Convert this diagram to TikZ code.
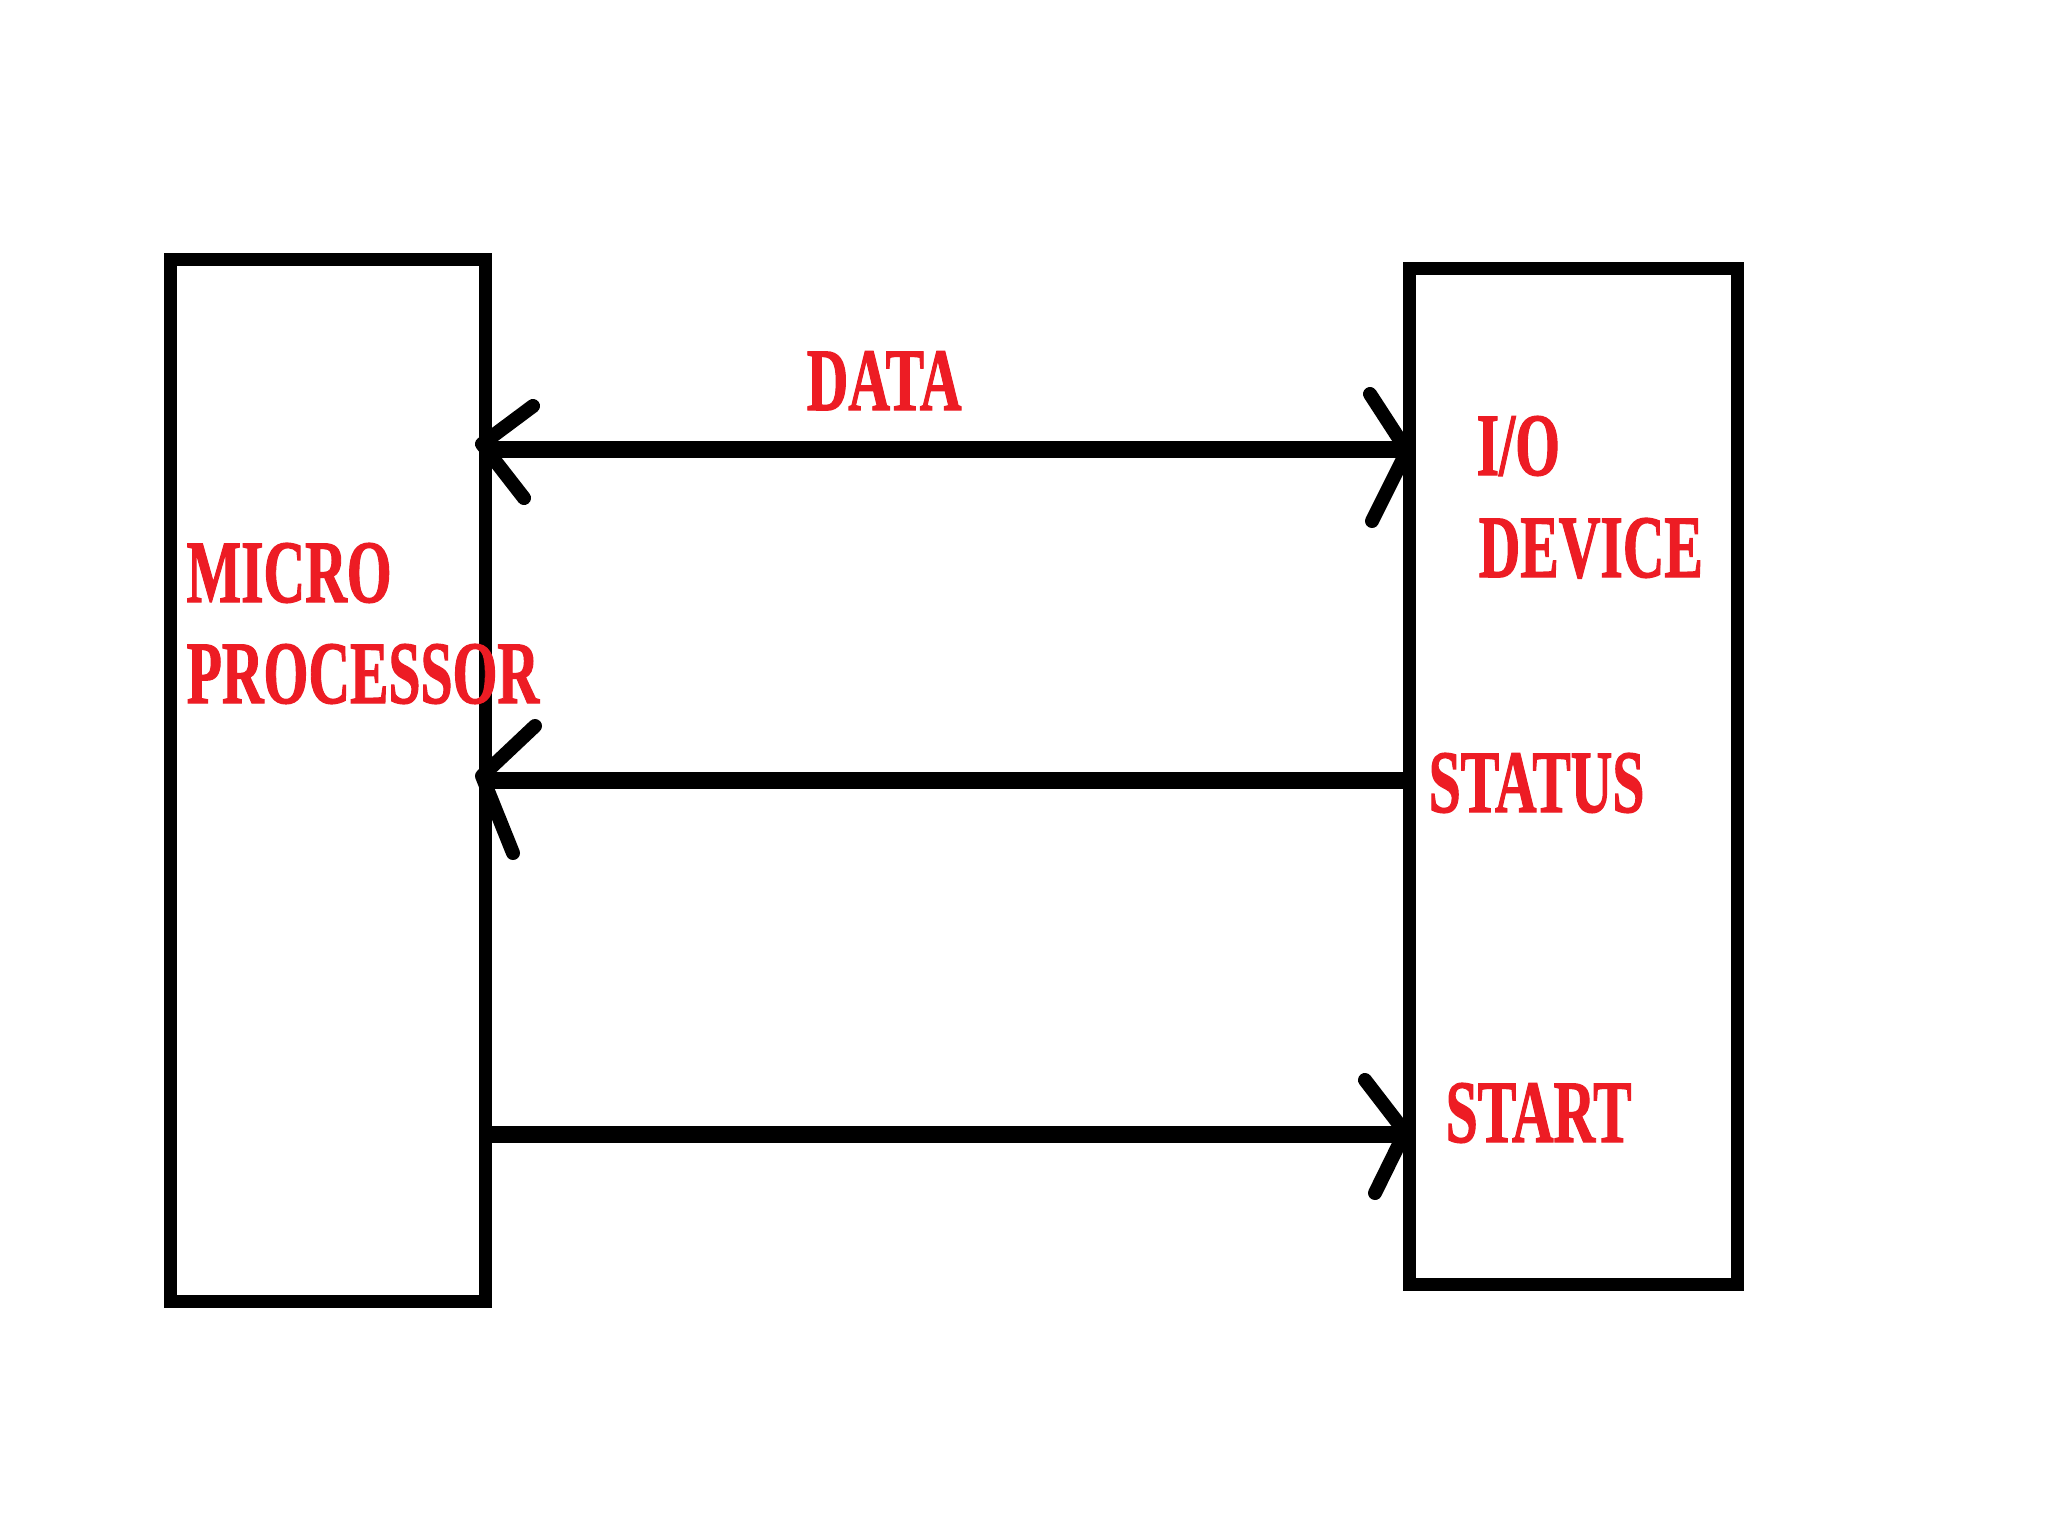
\documentclass[tikz,border=0pt]{standalone}
\usepackage{fontspec}
\setmainfont{Liberation Serif}[BoldFeatures={FakeBold=1.6}]
\usetikzlibrary{calc}
\definecolor{paintred}{RGB}{237,28,36}
\newcommand\lblbox[1]{\scalebox{0.648}[1]{\bfseries #1}}
\begin{document}
\begin{tikzpicture}[x=0.01cm,y=-0.01cm]
\tikzset{
  box/.style={draw=black, line width=0.13cm, inner sep=0pt, outer sep=0pt},
  wire/.style={draw=black, line width=0.17cm},
  barb/.style={draw=black, line width=0.14cm, line cap=round},
  lbl/.style={text=paintred, font=\fontsize{25.3}{30}\selectfont, inner sep=0pt, anchor=base west}
}
\fill[white] (0,0) rectangle (2048,1536);
\useasboundingbox (0,0) rectangle (2048,1536);

% boxes
\node[box, minimum width=3.14cm, minimum height=10.41cm] (mp) at (328,780.5) {};
\node[box, minimum width=3.27cm, minimum height=10.15cm] (io) at (1573.5,776.5) {};

% levels
\coordinate (dy) at (0,449);
\coordinate (sy) at (0,780);
\coordinate (ty) at (0,1134);

% DATA (double-headed)
\draw[wire] (mp.east |- dy) -- (io.west |- dy);
\coordinate (dl) at (482,444);
\coordinate (dr) at (1407,451);
\draw[barb] (dl) -- ++(51,-38) (dl) -- ++(42,54);
\draw[barb] (dr) -- ++(-37,-57) (dr) -- ++(-35,70);

% STATUS (to microprocessor)
\draw[wire] (io.west |- sy) -- (mp.east |- sy);
\coordinate (sl) at (482,776);
\draw[barb] (sl) -- ++(53,-50) (sl) -- ++(31,77);

% START (to I/O device)
\draw[wire] (mp.east |- ty) -- (io.west |- ty);
\coordinate (tr) at (1405,1132);
\draw[barb] (tr) -- ++(-40,-52) (tr) -- ++(-30,61);

% labels
\node[lbl] (data) at (806,410) {\lblbox{DATA}};
\node[lbl] (mp1) at (186,602) {\lblbox{MICRO}};
\node[lbl] (mp2) at (186,703) {\lblbox{PROCESSOR}};
\node[lbl] (io1) at (1476,475) {\lblbox{I/O}};
\node[lbl] (io2) at (1478,577) {\lblbox{DEVICE}};
\node[lbl] (st) at (1428,812) {\lblbox{STATUS}};
\node[lbl] (sr) at (1445,1142) {\lblbox{START}};
\end{tikzpicture}
\end{document}
